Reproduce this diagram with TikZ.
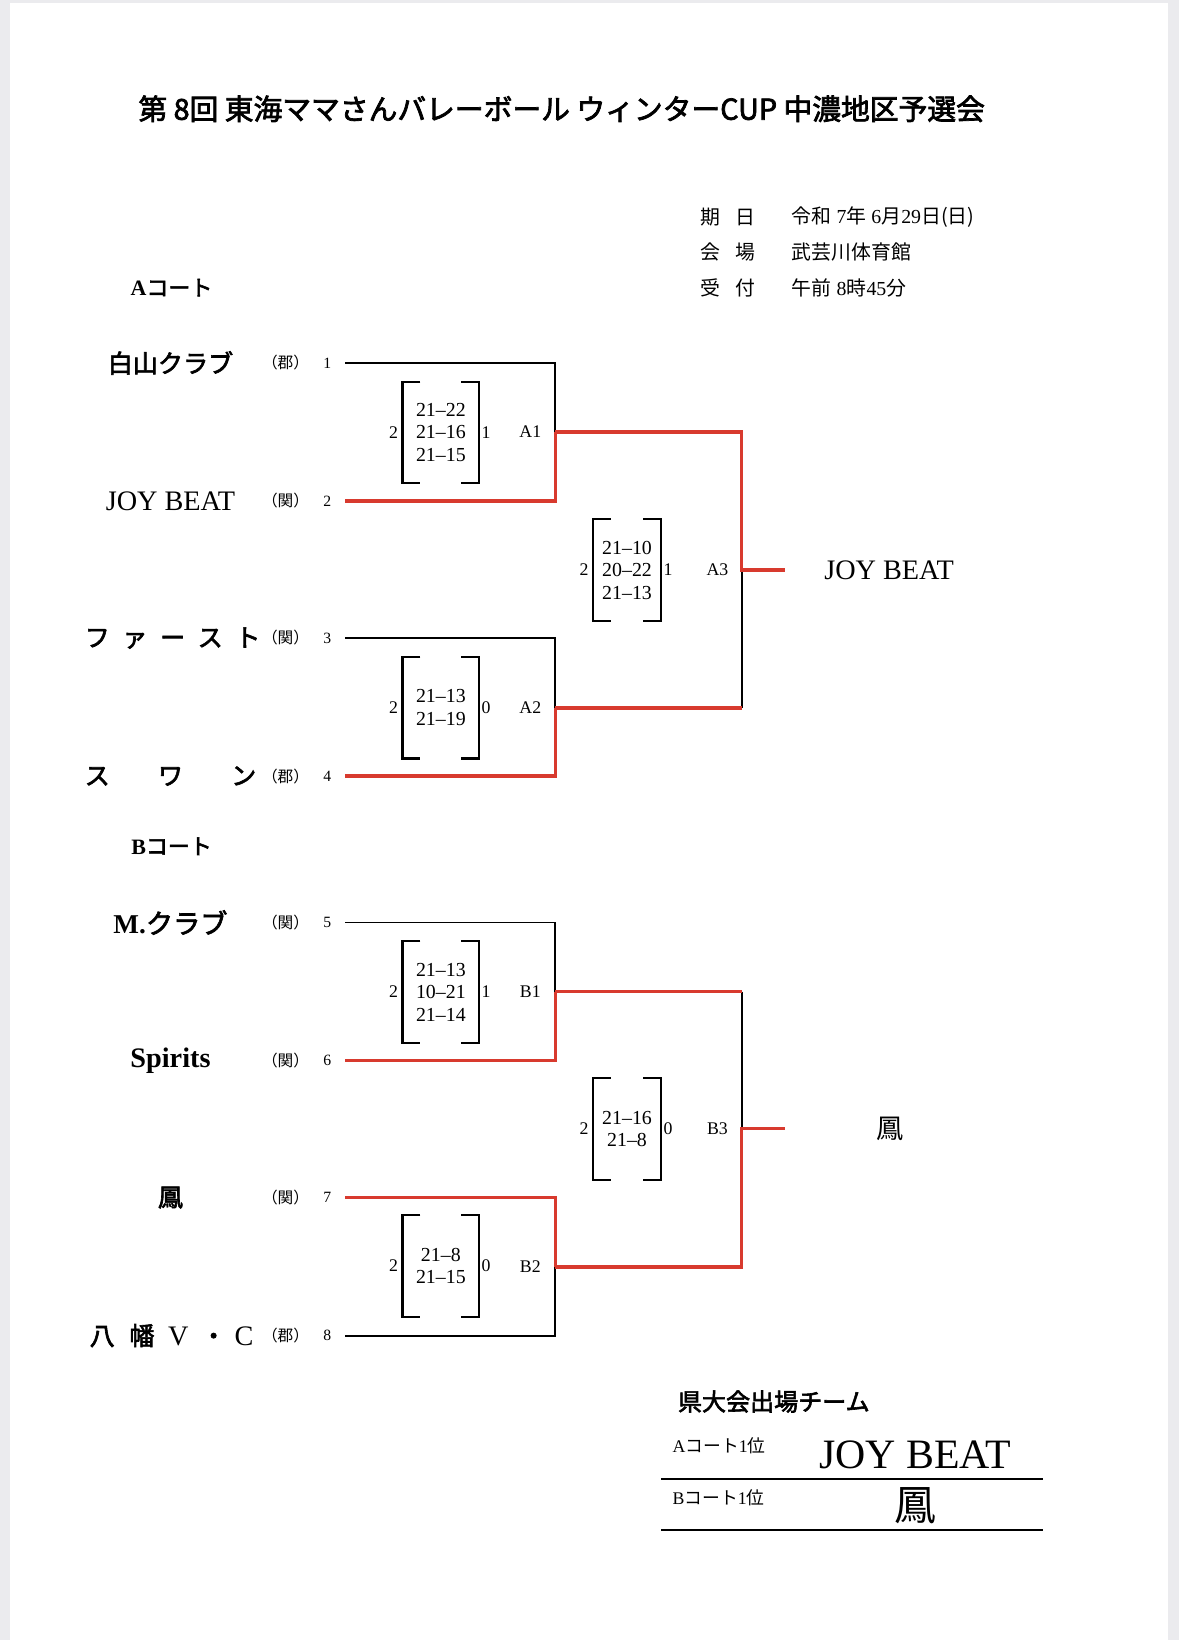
\documentclass[tikz,border=0pt]{standalone}
\usepackage{fontspec}
\setmainfont{Liberation Serif}
\newfontfamily\jp{Noto Sans CJK JP}
\newfontfamily\jpm[FakeBold=2.5]{Noto Sans CJK JP}
\usetikzlibrary{positioning}
\definecolor{winred}{HTML}{D83A2E}
\definecolor{bggray}{HTML}{EBEBEE}

\begin{document}
\begin{tikzpicture}[x=1pt,y=-1pt]

\tikzstyle{team}=[inner sep=0pt, font=\fontsize{24}{24}\selectfont\jpm]
\tikzstyle{latin}=[inner sep=0pt, font=\fontsize{27}{27}\selectfont]
\tikzstyle{tag}=[inner sep=0pt, font=\fontsize{15}{15}\selectfont\jp]
\tikzstyle{num}=[inner sep=0pt, font=\fontsize{15}{15}\selectfont]
\tikzstyle{score}=[inner sep=0pt, align=center, minimum width=73pt, minimum height=97pt,
    font=\fontsize{19}{21.5}\selectfont]
\tikzstyle{side}=[inner sep=0pt, font=\fontsize{17}{17}\selectfont]
\tikzstyle{match}=[inner sep=0pt, font=\fontsize{17}{17}\selectfont]
\tikzstyle{info}=[inner sep=0pt, anchor=west, font=\fontsize{19}{19}\selectfont]
\tikzstyle{loss}=[line width=1.8pt, black]
\tikzstyle{win}=[line width=3.6pt, winred]
\tikzstyle{brk}=[line width=2pt, black]

  \useasboundingbox (0,0) rectangle (1127,1568);
  \fill[bggray] (0,0) rectangle (1127,1568);
  \fill[white] (10,3) rectangle (1117,1568);

  % title and info
  \node[inner sep=0pt, font=\fontsize{27.5}{28}\selectfont\jpm] (title) at (537,104)
    {第 8回 東海ママさんバレーボール ウィンターCUP 中濃地区予選会};
  \node[info] (kijitsu) at (670,208) {\jp 期\hspace{14pt}日};
  \node[info] (kaijo) at (670,241) {\jp 会\hspace{14pt}場};
  \node[info] (uketsuke) at (670,275) {\jp 受\hspace{14pt}付};
  \node[info] (date) at (757,208) {{\jp 令和} 7{\jp 年} 6{\jp 月}29{\jp 日(日)}};
  \node[info] (place) at (757,241) {\jp 武芸川体育館};
  \node[info] (time) at (757,275) {{\jp 午前} 8{\jp 時}45{\jp 分}};

  \node[inner sep=0pt, font=\fontsize{21}{21}\selectfont\bfseries] (courtA) at (164,275) {A{\mdseries\jpm コート}};
  \node[inner sep=0pt, font=\fontsize{21}{21}\selectfont\bfseries] (courtB) at (164,809) {B{\mdseries\jpm コート}};

  % teams
  \node[team] (n1) at (163,347) {白山クラブ};
  \node[latin] (n2) at (163,479) {JOY BEAT};
  \node[team] (n3) at (165,610) {フ\hspace{12pt}ァ\hspace{12pt}ー\hspace{12pt}ス\hspace{12pt}ト};
  \node[team] (n4) at (163,742) {ス\hspace{46pt}ワ\hspace{46pt}ン};
  \node[latin, font=\fontsize{26}{26}\selectfont\bfseries] (n5) at (163,882) {M.{\mdseries\jpm クラブ}};
  \node[latin, font=\fontsize{27}{27}\selectfont\bfseries] (n6) at (163,1014) {Spirits};
  \node[team] (n7) at (163,1145) {鳳};
  \node[team] (n8) at (164,1277) {八\hspace{14pt}幡\hspace{13pt}{\rmfamily\fontsize{27}{27}\selectfont V}\hspace{12pt}・\hspace{8pt}{\rmfamily\fontsize{27}{27}\selectfont C}};

  \foreach \i/\y/\g in {1/347/郡,2/479/関,3/610/関,4/742/郡,5/882/関,6/1014/関,7/1145/関,8/1277/郡}{
    \node[tag] (g\i) at (273,\y) {（\g）};
    \node[num] (k\i) at (313,\y) {\i};
    \coordinate (t\i) at (330,\y);
  }

  % match points
  \coordinate (A1) at (531,413);
  \coordinate (A2) at (531,677);
  \coordinate (A3) at (709,545);
  \coordinate (wA) at (751,545);
  \coordinate (B1) at (531,948);
  \coordinate (B2) at (531,1211);
  \coordinate (B3) at (709,1079);
  \coordinate (wB) at (751,1079);

  % A court
  \draw[loss] (t1) -| (A1);
  \draw[win] (t2) -| (A1);
  \draw[loss] (t3) -| (A2);
  \draw[win] (t4) -| (A2);
  \draw[loss] (A2 -| A3) -- (A3);
  \draw[win] (A2) -- (A2 -| A3);
  \draw[win] (A1) -| (A3) -- (wA);

  % B court
  \draw[loss] (t5) -| (B1);
  \draw[win] (t6) -| (B1);
  \draw[win] (t7) -| (B2);
  \draw[loss] (t8) -| (B2);
  \draw[loss] (B1 -| B3) -- (B3);
  \draw[win] (B1) -- (B1 -| B3);
  \draw[win] (B2) -| (B3) -- (wB);

  % scores
  \node[score] (sA1) at (421.5,413.5) {21--22\\21--16\\21--15};
  \node[score] (sA2) at (421.5,676.5) {21--13\\21--19};
  \node[score, minimum width=65pt] (sA3) at (599.5,545) {21--10\\20--22\\21--13};
  \node[score] (sB1) at (421.5,948.5) {21--13\\10--21\\21--14};
  \node[score] (sB2) at (421.5,1210.5) {21--8\\21--15};
  \node[score, minimum width=65pt] (sB3) at (599.5,1079.5) {21--16\\21--8};

  \foreach \s in {sA1,sA2,sA3,sB1,sB2,sB3}{
    \draw[brk] ([xshift=17pt]\s.north west) -- (\s.north west) -- (\s.south west) -- ([xshift=17pt]\s.south west);
    \draw[brk] ([xshift=-17pt]\s.north east) -- (\s.north east) -- (\s.south east) -- ([xshift=-17pt]\s.south east);
  }

  \node[side, left=4pt of sA1] (sA1w) {2};
  \node[side, right=2pt of sA1] (sA1l) {1};
  \node[side, left=4pt of sA2] (sA2w) {2};
  \node[side, right=2pt of sA2] (sA2l) {0};
  \node[side, left=4pt of sA3] (sA3w) {2};
  \node[side, right=2pt of sA3] (sA3l) {1};
  \node[side, left=4pt of sB1] (sB1w) {2};
  \node[side, right=2pt of sB1] (sB1l) {1};
  \node[side, left=4pt of sB2] (sB2w) {2};
  \node[side, right=2pt of sB2] (sB2l) {0};
  \node[side, left=4pt of sB3] (sB3w) {2};
  \node[side, right=2pt of sB3] (sB3l) {0};

  \node[match] (lA1) at (507,413) {A1};
  \node[match] (lA2) at (507,677) {A2};
  \node[match] (lA3) at (686,545) {A3};
  \node[match] (lB1) at (507,948) {B1};
  \node[match] (lB2) at (507,1211) {B2};
  \node[match] (lB3) at (686,1079) {B3};

  % winners
  \node[latin] (winA) at (850,545) {JOY BEAT};
  \node[inner sep=0pt, font=\fontsize{26}{26}\selectfont\jp] (winB) at (851,1079) {鳳};

  % qualifiers
  \node[inner sep=0pt, anchor=west, font=\fontsize{23}{23}\selectfont\jpm] (quali) at (648,1340) {県大会出場チーム};
  \node[inner sep=0pt, anchor=west, font=\fontsize{17}{17}\selectfont] (firstA) at (643,1382) {A{\jp コート}1{\jp 位}};
  \node[inner sep=0pt, anchor=west, font=\fontsize{17}{17}\selectfont] (firstB) at (643,1432) {B{\jp コート}1{\jp 位}};
  \node[inner sep=0pt, font=\fontsize{40}{40}\selectfont] (qA) at (875,1391) {JOY BEAT};
  \node[inner sep=0pt, font=\fontsize{40}{40}\selectfont\jp] (qB) at (875,1440) {鳳};
  \draw[line width=2pt] (632,1414) -- (997,1414);
  \draw[line width=2pt] (632,1463) -- (997,1463);

\end{tikzpicture}
\end{document}
